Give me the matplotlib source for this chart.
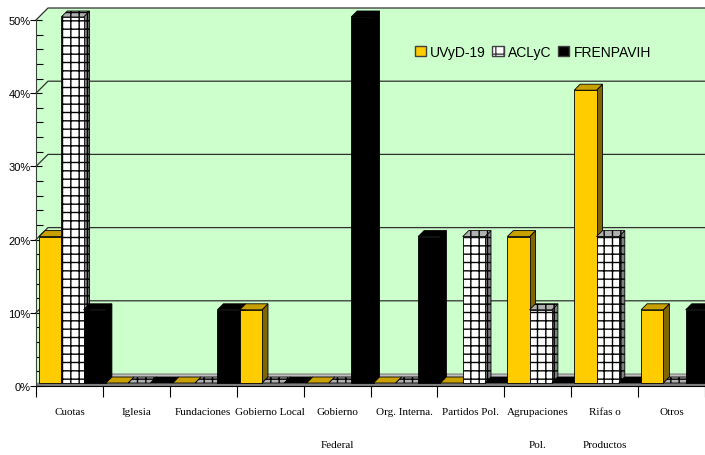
import matplotlib
matplotlib.use('Agg')
import matplotlib.pyplot as plt
from matplotlib.patches import Polygon, Patch

# Datos del gráfico (porcentajes)
categorias = ['Cuotas', 'Iglesia', 'Fundaciones', 'Gobierno Local', 'Gobierno\nFederal',
              'Org. Interna.', 'Partidos Pol.', 'Agrupaciones\nPol.', 'Rifas o\nProductos', 'Otros']
series = ['UVyD-19', 'ACLyC', 'FRENPAVIH']
uvyd = [20, 0, 0, 10, 0, 0, 0, 20, 40, 10]
aclyc = [50, 0, 0, 0, 0, 0, 20, 10, 20, 0]
frenpavih = [10, 0, 10, 0, 50, 20, 0, 0, 0, 10]
y_ticks = [0, 10, 20, 30, 40, 50]

# Colores: frente, lado, tapa
colores = [
    ('#FFCC00', '#806600', '#C8A000', None),
    ('#FFFFFF', '#808080', '#B0B0B0', '++'),
    ('#000000', '#000000', '#000000', None),
]
wall_color = '#CCFFCC'
floor_color = '#C0C0C0'

plt.rcParams['hatch.linewidth'] = 1.0

W, H = 705, 456
fig = plt.figure(figsize=(W / 100, H / 100), dpi=100)
fig.patch.set_facecolor('white')

# Área del gráfico en píxeles
left_px, right_px, top_px, bottom_px = 36, 705, 9, 387
ax = fig.add_axes([left_px / W, 1 - bottom_px / H, (right_px - left_px) / W, (bottom_px - top_px) / H])

ymax = 50 + 12 * 50 / (387 - 21)
ax.set_xlim(0, 10)
ax.set_ylim(0, ymax)
sx = 10 / (right_px - left_px)
sy = ymax / (bottom_px - top_px)


def off(d):
    return d * sx, d * sy


DX, DY = off(12)   # profundidad de las paredes
bx, by = off(3)    # desplazamiento de la cara frontal de barras
dx, dy = off(6)    # profundidad de las barras

ax.set_facecolor('none')
for s in ['top', 'right']:
    ax.spines[s].set_visible(False)

# Paredes
ax.add_patch(Polygon([(DX, DY), (10 + DX, DY), (10 + DX, 50 + DY), (DX, 50 + DY)],
                     closed=True, facecolor=wall_color, edgecolor='none', zorder=0))
ax.add_patch(Polygon([(0, 0), (DX, DY), (DX, 50 + DY), (0, 50)],
                     closed=True, facecolor=wall_color, edgecolor='none', zorder=0))
for v in y_ticks[1:]:
    ax.plot([0, DX, 10 + DX], [v, v + DY, v + DY], color='#303030', lw=0.9, zorder=1, clip_on=False)

# Piso
ax.add_patch(Polygon([(0, 0), (10, 0), (10 + DX, DY), (DX, DY)],
                     closed=True, facecolor=floor_color, edgecolor='#606060', lw=0.6, zorder=1))
ax.plot([0, 10], [0.25, 0.25], color='#808080', lw=2.5, zorder=1.5)

# Barras con caras laterales
datos = [uvyd, aclyc, frenpavih]
w = 1 / 3
z = 2
for i in range(len(categorias)):
    for j, vals in enumerate(datos):
        v = vals[i]
        front, side, topc, hatch = colores[j]
        x0 = i + j * w + bx
        y0 = by
        ax.add_patch(Polygon([(x0 + w, y0), (x0 + w + dx, y0 + dy), (x0 + w + dx, y0 + v + dy), (x0 + w, y0 + v)],
                             closed=True, facecolor=side, edgecolor='black', lw=0.6, hatch=hatch, zorder=z))
        ax.add_patch(Polygon([(x0, y0 + v), (x0 + w, y0 + v), (x0 + w + dx, y0 + v + dy), (x0 + dx, y0 + v + dy)],
                             closed=True, facecolor=topc, edgecolor='black', lw=0.6, hatch=hatch, zorder=z))
        if v > 0:
            ax.bar(x0, v, width=w, bottom=y0, align='edge', color=front, edgecolor='black',
                   linewidth=0.6, hatch=hatch, zorder=z + 0.5)
        z += 1

# Ejes
ax.spines['left'].set_bounds(0, 50)
ax.spines['left'].set_color('#404040')
ax.spines['bottom'].set_color('black')
ax.set_yticks(y_ticks)
ax.set_yticklabels([f'{v}%' for v in y_ticks], fontfamily='Liberation Sans', fontsize=8)
ax.set_yticks(range(0, 51, 2), minor=True)
ax.tick_params(axis='y', which='major', direction='inout', length=8, width=0.8, pad=0)
ax.tick_params(axis='y', which='minor', direction='in', length=5, width=0.8)

ax.set_xticks(range(0, 11))
ax.set_xticklabels([])
ax.set_xticks([i + 0.5 for i in range(10)], minor=True)
ax.set_xticklabels(categorias, minor=True, fontfamily='Liberation Serif', fontsize=8, linespacing=4.5,
                   va='top')
ax.tick_params(axis='x', which='major', direction='out', length=8, width=0.8)
ax.tick_params(axis='x', which='minor', length=0, pad=15)

# Leyenda
handles = [Patch(facecolor=colores[k][0], edgecolor='#404040', hatch=colores[k][3], label=series[k])
           for k in range(3)]
fig.legend(handles=handles, loc='center left', bbox_to_anchor=(402 / W, 1 - 53 / H), ncol=3,
           frameon=False, prop={'family': 'Liberation Sans', 'size': 10},
           handlelength=0.8, handleheight=0.8, handletextpad=0.3, columnspacing=0.5)

fig.savefig('out.png', dpi=100)
